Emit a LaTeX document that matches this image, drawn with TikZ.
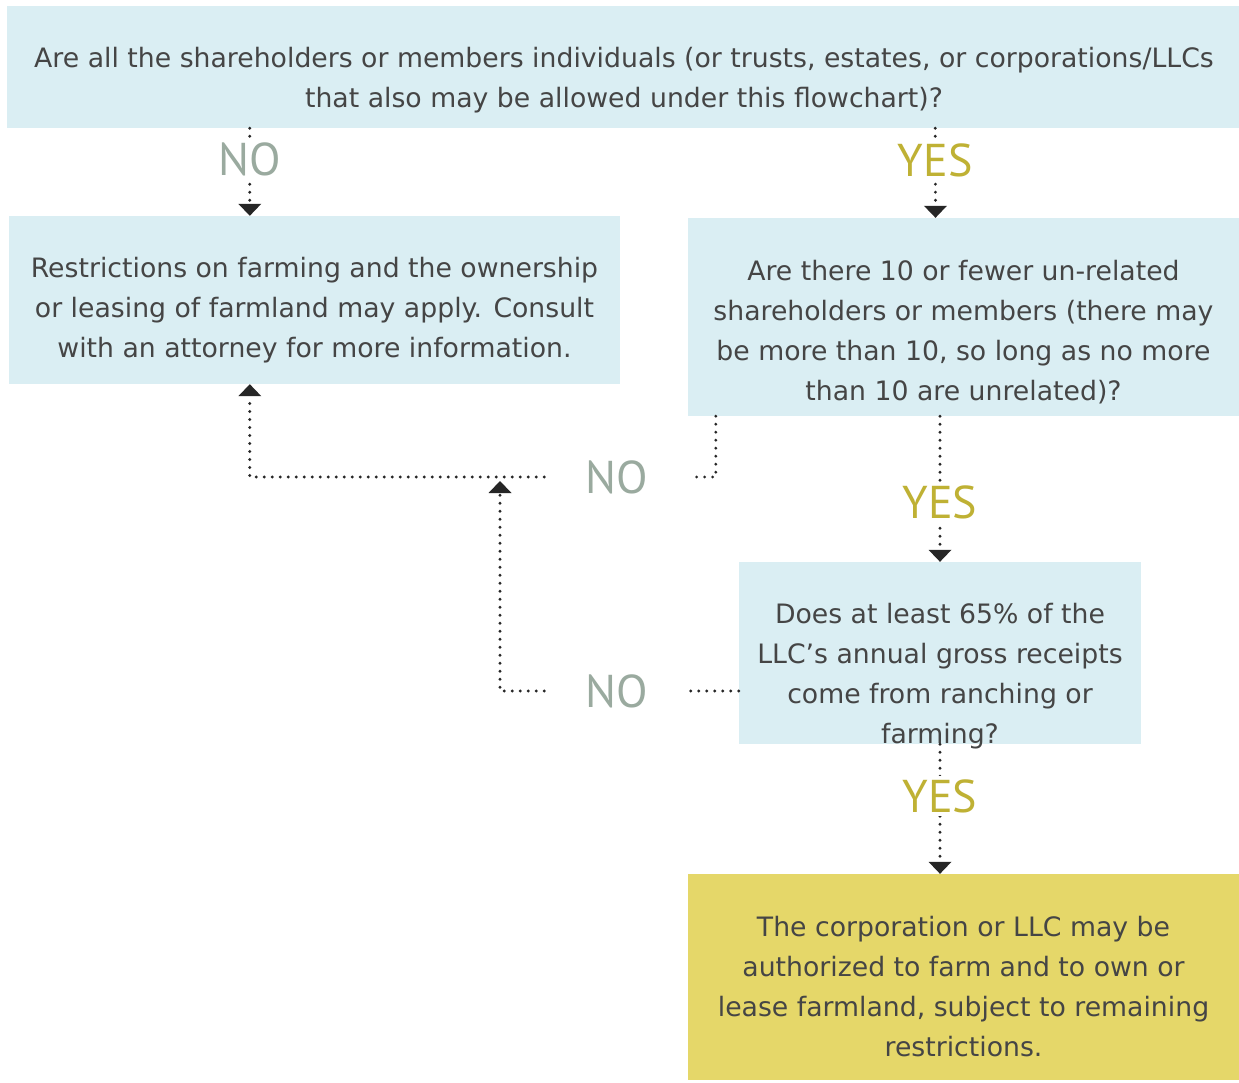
\documentclass[tikz,border=0pt]{standalone}
\usepackage{fontspec}
\setmainfont{DejaVu Sans}
\newfontfamily\labfont{PT Sans}
\usetikzlibrary{arrows.meta}
\definecolor{boxblue}{HTML}{DAEEF3}
\definecolor{boxgold}{HTML}{E5D769}
\definecolor{bodytext}{HTML}{454545}
\definecolor{nogray}{HTML}{9AAA9F}
\definecolor{yesgold}{HTML}{BFB134}
\tikzset{
  qbox/.style={fill=boxblue, draw=none, inner sep=0pt},
  endbox/.style={fill=boxgold, draw=none, inner sep=0pt},
  qtext/.style={text=bodytext, align=center, inner sep=0pt,
    font=\fontsize{26.7}{40}\selectfont},
  dotline/.style={line width=3.2pt, line cap=round, dash pattern=on 0pt off 8pt, draw=black!85},
  tip/.style={-{Triangle[width=23pt,length=12pt,line width=0pt]}},
  nolab/.style={text=nogray, font=\labfont\fontsize{46}{46}\selectfont, inner sep=0pt},
  yeslab/.style={text=yesgold, font=\labfont\fontsize{46}{46}\selectfont, inner sep=3pt, fill=white},
  nolabfill/.style={nolab, fill=white, inner sep=3pt},
}
\begin{document}
\begin{tikzpicture}[x=1pt,y=-1pt]
\useasboundingbox[fill=white] (0,0) rectangle (1239,1082);

% boxes
\node[qbox, minimum width=1232pt, minimum height=122pt] (q1) at (623,67) {};
\node[qtext] (q1t) at (624,80) {Are all the shareholders or members individuals (or trusts, estates, or corporations/LLCs\\that also may be allowed under this flowchart)?};

\node[qbox, minimum width=611pt, minimum height=168pt] (stop) at (314.5,300) {};
\node[qtext] (stopt) at (314.5,310) {Restrictions on farming and the ownership\\or leasing of farmland may apply. Consult\\with an attorney for more information.};

\node[qbox, minimum width=551pt, minimum height=198pt] (q2) at (963.5,317) {};
\node[qtext] (q2t) at (963.5,332) {Are there 10 or fewer un-related\\shareholders or members (there may\\be more than 10, so long as no more\\than 10 are unrelated)?};

\node[qbox, minimum width=402pt, minimum height=182pt] (q3) at (940,653) {};
\node[qtext] (q3t) at (940,676) {Does at least 65\% of the\\LLC’s annual gross receipts\\come from ranching or\\farming?};

\node[endbox, minimum width=551pt, minimum height=206pt] (ok) at (963.5,977) {};
\node[qtext] (okt) at (963.5,987) {The corporation or LLC may be\\authorized to farm and to own or\\lease farmland, subject to remaining\\restrictions.};

% NO labels on the side branches
\node[nolab, minimum width=145pt, minimum height=40pt] (no2) at (617,477) {NO};
\node[nolab, minimum width=145pt, minimum height=40pt] (no3) at (617,691) {NO};
\coordinate (merge) at (500,481);

% connectors
\draw[dotline, tip] ([xshift=243pt]q1.south west) -- node[nolabfill, pos=0.36] (no1) {NO} ([xshift=241pt]stop.north west);
\draw[dotline, tip] ([xshift=-304pt]q1.south east) -- node[yeslab, pos=0.36] (yes1) {YES} ([xshift=-28pt]q2.north);
\draw[dotline, tip] ([xshift=-23.5pt]q2.south) -- node[yeslab, pos=0.59] (yes2) {YES} ([xshift=0pt]q3.north);
\draw[dotline, tip] (q3.south) -- node[yeslab, pos=0.4] (yes3) {YES} ([xshift=-23.5pt]ok.north);

\draw[dotline] ([xshift=28pt]q2.south west) |- (no2.east);
\draw[dotline, tip] (no2.west) -| ([xshift=241pt]stop.south west);
\draw[dotline] ([yshift=-38pt]q3.west) -- (no3.east);
\draw[dotline, tip] (no3.west) -| (merge);
\end{tikzpicture}
\end{document}
